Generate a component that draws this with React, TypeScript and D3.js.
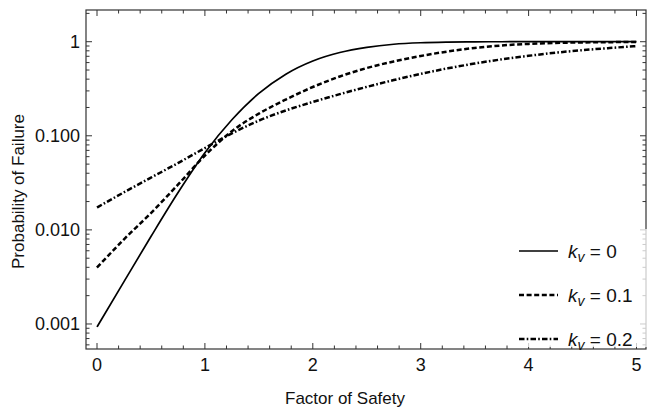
import React from "react";
import * as d3 from "d3";

const fsValues = [0, 0.25, 0.5, 0.75, 1, 1.25, 1.5, 1.75, 2, 2.25, 2.5, 2.75, 3, 3.25, 3.5, 3.75, 4, 4.25, 4.5, 4.75, 5];
const pKv0 = [0.00093, 0.00282, 0.0085, 0.0248, 0.066, 0.148, 0.282, 0.452, 0.624, 0.767, 0.871, 0.94, 0.975, 0.991, 0.998, 0.9995, 1, 1, 1, 1, 1];
const pKv01 = [0.00398, 0.00794, 0.0151, 0.0302, 0.0617, 0.112, 0.172, 0.243, 0.33, 0.427, 0.525, 0.617, 0.705, 0.787, 0.859, 0.912, 0.948, 0.971, 0.982, 0.989, 0.993];
const pKv02 = [0.0173, 0.0251, 0.0359, 0.0513, 0.0741, 0.106, 0.145, 0.186, 0.229, 0.277, 0.331, 0.391, 0.455, 0.521, 0.586, 0.649, 0.708, 0.764, 0.813, 0.857, 0.897];
const seriesLabels = ["0", "0.1", "0.2"];
const xTickValues = [0, 1, 2, 3, 4, 5];
const yTickValues = [0.001, 0.01, 0.1, 1];
const yTickLabels = ["0.001", "0.010", "0.100", "1"];

const W = 647, H = 410;
const L = 86, R = 646, T = 10, B = 349;

export default function App() {
  const x = d3.scaleLinear().domain([-0.102, 5.088]).range([L, R]);
  const y = d3.scaleLog().domain([Math.pow(10, -3.266), Math.pow(10, 0.337)]).range([B, T]);

  const series = [pKv0, pKv01, pKv02];
  const dashes = [undefined, "5,2.6", "5.5,2.2,1.6,2.2"];
  const widths = [1.7, 2.5, 2.5];

  const line = d3.line<number>()
    .x((_, i) => x(fsValues[i]))
    .y((d) => y(d))
    .curve(d3.curveMonotoneX);

  const xMinor: number[] = [];
  for (let k = 0; k <= 25; k++) {
    if (k % 5 !== 0) xMinor.push(k * 0.2);
  }
  const yMinor: number[] = [];
  [0.0001, 0.001, 0.01, 0.1, 1].forEach((dec) => {
    for (let k = 2; k <= 9; k++) {
      const v = k * dec;
      const [lo, hi] = y.domain();
      if (v > lo && v < hi) yMinor.push(v);
    }
  });

  const font = "'Liberation Sans', Arial, sans-serif";
  const legendY = [251, 295, 339];

  return (
    <svg width={W} height={H} style={{ position: "absolute", left: 0, top: 0 }} fontFamily={font}>
      <rect x={0} y={0} width={W} height={H} fill="white" />
      <defs>
        <clipPath id="plotclip">
          <rect x={L} y={T} width={R - L} height={B - T} />
        </clipPath>
      </defs>
      <g clipPath="url(#plotclip)">
        {series.map((s, i) => (
          <path key={i} d={line(s) || ""} fill="none" stroke="black" strokeWidth={widths[i]} strokeDasharray={dashes[i]} />
        ))}
      </g>
      <rect x={L} y={T} width={R - L} height={B - T} fill="none" stroke="#333" strokeWidth={1.2} />
      {xTickValues.map((v) => (
        <g key={"xt" + v}>
          <line x1={x(v)} x2={x(v)} y1={B} y2={B - 6} stroke="#333" />
          <line x1={x(v)} x2={x(v)} y1={T} y2={T + 6} stroke="#333" />
          <text x={x(v)} y={B + 22} textAnchor="middle" fontSize={18} fill="#111">{v}</text>
        </g>
      ))}
      {xMinor.map((v) => (
        <g key={"xm" + v}>
          <line x1={x(v)} x2={x(v)} y1={B} y2={B - 3.5} stroke="#333" />
          <line x1={x(v)} x2={x(v)} y1={T} y2={T + 3.5} stroke="#333" />
        </g>
      ))}
      {yTickValues.map((v, i) => (
        <g key={"yt" + v}>
          <line x1={L} x2={L + 6} y1={y(v)} y2={y(v)} stroke="#333" />
          <line x1={R} x2={R - 6} y1={y(v)} y2={y(v)} stroke="#333" />
          <text x={L - 6} y={y(v) + 6.5} textAnchor="end" fontSize={18} fill="#111">{yTickLabels[i]}</text>
        </g>
      ))}
      {yMinor.map((v, i) => (
        <g key={"ym" + i}>
          <line x1={L} x2={L + 3.5} y1={y(v)} y2={y(v)} stroke="#333" />
          <line x1={R} x2={R - 3.5} y1={y(v)} y2={y(v)} stroke="#333" />
        </g>
      ))}
      <rect x={508} y={229} width={W - 508} height={B - 231} fill="white" opacity={0.75} />
      {seriesLabels.map((lab, i) => (
        <g key={"lg" + i}>
          <line x1={519} x2={558} y1={legendY[i]} y2={legendY[i]} stroke="black" strokeWidth={widths[i]} strokeDasharray={dashes[i]} />
          <text x={568} y={legendY[i] + 6.5} fontSize={19} fill="#111">
            <tspan fontStyle="italic">k</tspan>
            <tspan fontStyle="italic" fontSize={14} dy={4}>v</tspan>
            <tspan dy={-4}>{" = " + lab}</tspan>
          </text>
        </g>
      ))}
      <text x={345} y={404} textAnchor="middle" fontSize={17} fill="#111">Factor of Safety</text>
      <text transform={`translate(24, ${(T + B) / 2 + 12}) rotate(-90)`} textAnchor="middle" fontSize={17} fill="#111">Probability of Failure</text>
    </svg>
  );
}
